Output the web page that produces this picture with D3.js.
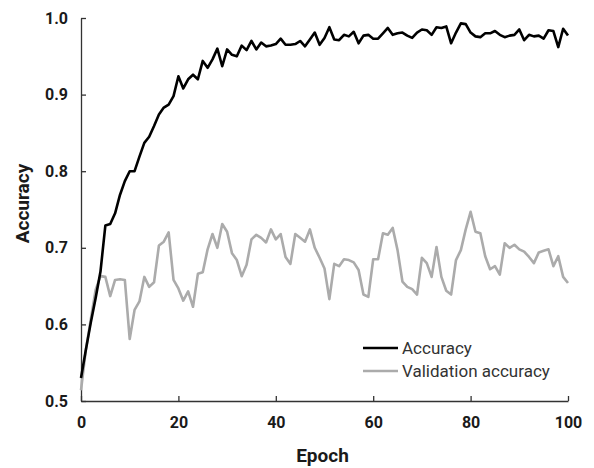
<!DOCTYPE html>
<html>
<head>
<meta charset="utf-8">
<script src="https://cdn.jsdelivr.net/npm/d3@7"></script>
<style>
  body { margin: 0; background: #fff; }
  svg text { font-family: "Liberation Sans Narrow", "Roboto", "Liberation Sans", sans-serif; }
  .tick text { font-weight: bold; font-size: 16px; fill: #1a1a1a; }
  .axis-title { font-weight: bold; font-size: 19px; fill: #1a1a1a; }
  .legend text { font-size: 17px; fill: #333; }
</style>
</head>
<body>
<div id="chart"></div>
<script>
// --- datos ---
const seriesNames = ["Accuracy", "Validation accuracy"];

const accuracy = [
  0.530, 0.567, 0.602, 0.634, 0.669, 0.729, 0.731, 0.745, 0.769, 0.787,
  0.800, 0.800, 0.819, 0.837, 0.845, 0.859, 0.874, 0.883, 0.887, 0.898,
  0.924, 0.908, 0.920, 0.926, 0.920, 0.944, 0.935, 0.946, 0.960, 0.937,
  0.959, 0.952, 0.950, 0.964, 0.958, 0.970, 0.959, 0.968, 0.963, 0.964,
  0.966, 0.973, 0.965, 0.965, 0.966, 0.970, 0.963, 0.972, 0.981, 0.965,
  0.974, 0.988, 0.972, 0.971, 0.978, 0.976, 0.982, 0.967, 0.977, 0.978,
  0.973, 0.973, 0.980, 0.987, 0.978, 0.980, 0.981, 0.977, 0.974, 0.981,
  0.985, 0.984, 0.978, 0.988, 0.987, 0.989, 0.967, 0.981, 0.993, 0.992,
  0.981, 0.976, 0.975, 0.980, 0.980, 0.983, 0.978, 0.975, 0.977, 0.978,
  0.985, 0.971, 0.978, 0.976, 0.977, 0.973, 0.984, 0.983, 0.962, 0.986,
  0.977
];

const valAccuracy = [
  0.514, 0.567, 0.606, 0.645, 0.663, 0.662, 0.637, 0.658, 0.659, 0.658,
  0.581, 0.619, 0.630, 0.662, 0.649, 0.655, 0.703, 0.708, 0.720, 0.658,
  0.647, 0.631, 0.643, 0.623, 0.666, 0.668, 0.698, 0.718, 0.700, 0.731,
  0.721, 0.693, 0.684, 0.663, 0.678, 0.711, 0.717, 0.713, 0.707, 0.724,
  0.711, 0.718, 0.688, 0.679, 0.718, 0.713, 0.708, 0.724, 0.700, 0.687,
  0.673, 0.633, 0.679, 0.676, 0.685, 0.684, 0.681, 0.671, 0.639, 0.636,
  0.685, 0.685, 0.719, 0.717, 0.726, 0.697, 0.656, 0.649, 0.646, 0.639,
  0.687, 0.680, 0.662, 0.701, 0.662, 0.644, 0.639, 0.684, 0.697, 0.724,
  0.747, 0.721, 0.719, 0.689, 0.672, 0.676, 0.665, 0.706, 0.700, 0.704,
  0.698, 0.695, 0.688, 0.680, 0.694, 0.696, 0.698, 0.676, 0.689, 0.662,
  0.654
];

const xTicks = [0, 20, 40, 60, 80, 100];
const yTicks = [0.5, 0.6, 0.7, 0.8, 0.9, 1.0];

// --- lienzo ---
const W = 594, H = 468;
const margin = {top: 18, right: 26, bottom: 67, left: 81};
const width = W - margin.left - margin.right,
      height = H - margin.top - margin.bottom;

const svg = d3.select("#chart").append("svg")
    .attr("width", W)
    .attr("height", H);

const g = svg.append("g")
    .attr("transform", `translate(${margin.left},${margin.top})`);

// escalas
const x = d3.scaleLinear().domain([0, 100]).range([0, width]);
const y = d3.scaleLinear().domain([0.5, 1.0]).range([height, 0]);

// ejes (ticks hacia dentro, como en Excel)
const xAxis = g.append("g")
    .attr("transform", `translate(0,${height})`)
    .call(d3.axisBottom(x).tickValues(xTicks).tickSizeInner(-5).tickSizeOuter(0).tickPadding(13));

const yAxis = g.append("g")
    .call(d3.axisLeft(y).tickValues(yTicks).tickSizeInner(-5).tickSizeOuter(0).tickPadding(13)
      .tickFormat(d3.format(".1f")));

[xAxis, yAxis].forEach(ax => {
  ax.select(".domain").attr("stroke", "#333").attr("stroke-width", 1.3);
  ax.selectAll(".tick line").attr("stroke", "#333").attr("stroke-width", 1.3);
  ax.selectAll(".tick text").attr("fill", "#1a1a1a");
});
xAxis.selectAll(".tick text").attr("dy", "0.9em");

// títulos
svg.append("text")
    .attr("class", "axis-title")
    .attr("x", margin.left + width / 2 - 2)
    .attr("y", 462)
    .attr("text-anchor", "middle")
    .text("Epoch");

svg.append("text")
    .attr("class", "axis-title")
    .attr("transform", `translate(29,${margin.top + height / 2 - 6}) rotate(-90)`)
    .attr("text-anchor", "middle")
    .text("Accuracy");

// líneas
const line = d3.line()
    .x((d, i) => x(i))
    .y(d => y(d));

g.append("path")
    .datum(valAccuracy)
    .attr("fill", "none")
    .attr("stroke", "#ababab")
    .attr("stroke-width", 2.6)
    .attr("stroke-linejoin", "round")
    .attr("d", line);

g.append("path")
    .datum(accuracy)
    .attr("fill", "none")
    .attr("stroke", "#000")
    .attr("stroke-width", 2.6)
    .attr("stroke-linejoin", "round")
    .attr("d", line);

// leyenda
const colors = ["#000", "#ababab"];
const legend = svg.append("g")
    .attr("class", "legend")
    .attr("transform", "translate(363,348)");

seriesNames.forEach((name, i) => {
  const row = legend.append("g").attr("transform", `translate(0,${i * 23})`);
  row.append("line")
      .attr("x1", 0).attr("x2", 35)
      .attr("stroke", colors[i])
      .attr("stroke-width", 2.6);
  row.append("text")
      .attr("x", 39)
      .attr("dy", "0.35em")
      .text(name);
});
</script>
</body>
</html>
